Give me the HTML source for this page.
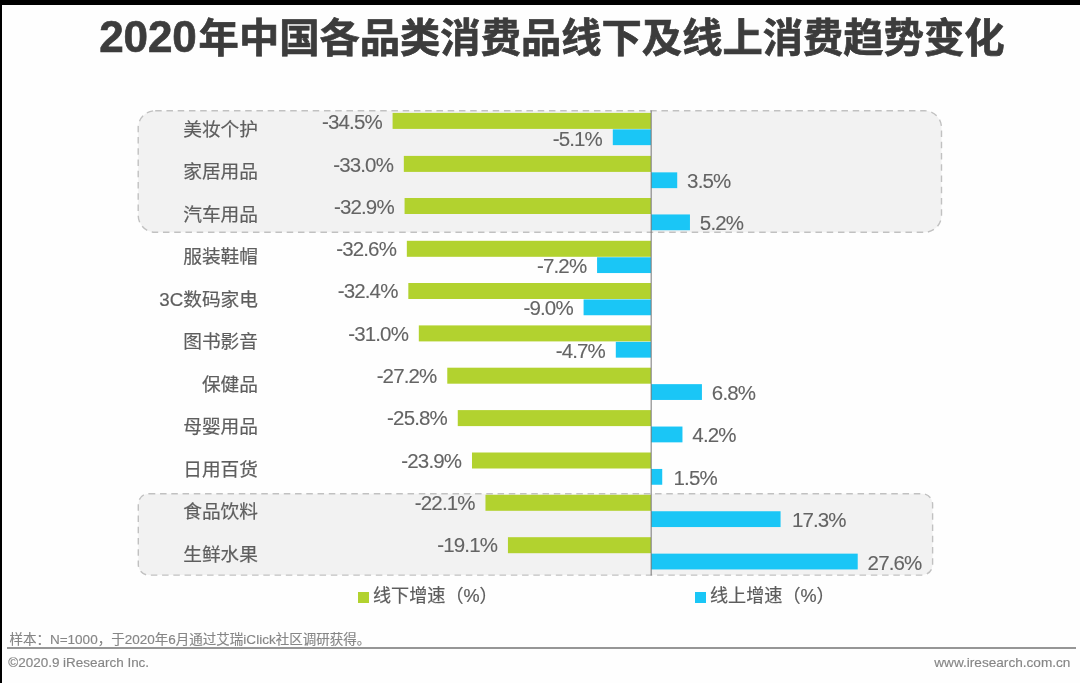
<!DOCTYPE html>
<html lang="zh-CN">
<head>
<meta charset="utf-8">
<title>2020年中国各品类消费品线下及线上消费趋势变化</title>
<style>
html,body{margin:0;padding:0;}
body{width:1080px;height:683px;overflow:hidden;background:#fefefe;position:relative;
  font-family:"Liberation Sans","Noto Sans CJK SC",sans-serif;color:#666;}
#page{position:absolute;left:0;top:0;width:1080px;height:683px;overflow:hidden;background:#fefefe;}
#topbar{position:absolute;left:0;top:0;width:1080px;height:5px;background:#000;}
#leftbar{position:absolute;left:0;top:0;width:2px;height:683px;background:#000;}
h1{position:absolute;left:0;top:0;margin:0;width:1080px;height:60px;font-weight:bold;color:#3c3c3c;
  font-size:40.3px;line-height:60px;white-space:nowrap;}
h1 span.t{position:absolute;left:198.6px;top:9px;-webkit-text-stroke:0.7px #3c3c3c;}
h1 span.n{position:absolute;left:99.3px;top:7px;font-size:44px;letter-spacing:-0.15px;-webkit-text-stroke:0.7px #3c3c3c;}
svg.boxes{position:absolute;left:0;top:0;}
.cat{position:absolute;right:822px;height:28px;line-height:28px;font-size:18.7px;color:#5e5e5e;white-space:nowrap;text-align:right;-webkit-text-stroke:0.2px #5e5e5e;}
.g{background:#b2d22f;fill:#b2d22f;}
.b{background:#1ac6f6;fill:#1ac6f6;}
.val{position:absolute;height:28px;line-height:28px;font-size:20.5px;letter-spacing:-0.85px;color:#646464;white-space:nowrap;-webkit-text-stroke:0.1px #646464;}
.lg{position:absolute;top:582px;height:28px;line-height:28px;font-size:18.1px;color:#5c5c5c;white-space:nowrap;-webkit-text-stroke:0.2px #5c5c5c;}
.sq{position:absolute;top:591.5px;width:11px;height:11px;}
#note{position:absolute;left:9.4px;top:630px;height:20px;line-height:20px;font-size:13.52px;color:#868686;white-space:nowrap;-webkit-text-stroke:0.15px #868686;}
#rule{position:absolute;left:7px;top:647px;width:1069px;height:2px;background:#969696;}
#copy{position:absolute;left:8.3px;top:653px;height:20px;line-height:20px;font-size:13.46px;color:#868686;white-space:nowrap;-webkit-text-stroke:0.15px #868686;}
#site{position:absolute;right:9.6px;top:653px;height:20px;line-height:20px;font-size:13.62px;color:#868686;white-space:nowrap;-webkit-text-stroke:0.15px #868686;}
</style>
</head>
<body>
<div id="page">
<div id="topbar"></div>
<div id="leftbar"></div>
<h1><span class="n">2020</span><span class="t">年中国各品类消费品线下及线上消费趋势变化</span></h1>
<svg class="boxes" width="1080" height="683" viewBox="0 0 1080 683">
<rect x="138.2" y="110.7" width="803.3" height="121.6" rx="17" ry="17" fill="#f2f2f2" stroke="#c1c1c1" stroke-width="1.4" stroke-dasharray="6.5 4.75"/>
<rect x="138.3" y="493.7" width="794.3" height="81.4" rx="10.5" ry="10.5" fill="#f2f2f2" stroke="#c1c1c1" stroke-width="1.4" stroke-dasharray="6.5 4.75"/>
<rect class="g" x="392.59" y="112.90" width="258.41" height="16.0"/>
<rect class="b" x="612.80" y="129.35" width="38.20" height="15.8"/>
<rect class="g" x="403.83" y="155.90" width="247.17" height="16.0"/>
<rect class="b" x="651.00" y="172.35" width="26.21" height="15.8"/>
<rect class="g" x="404.58" y="198.00" width="246.42" height="16.0"/>
<rect class="b" x="651.00" y="214.45" width="38.95" height="15.8"/>
<rect class="g" x="406.83" y="240.80" width="244.17" height="16.0"/>
<rect class="b" x="597.07" y="257.25" width="53.93" height="15.8"/>
<rect class="g" x="408.32" y="283.00" width="242.68" height="16.0"/>
<rect class="b" x="583.59" y="299.45" width="67.41" height="15.8"/>
<rect class="g" x="418.81" y="325.40" width="232.19" height="16.0"/>
<rect class="b" x="615.80" y="341.85" width="35.20" height="15.8"/>
<rect class="g" x="447.27" y="367.70" width="203.73" height="16.0"/>
<rect class="b" x="651.00" y="384.15" width="50.93" height="15.8"/>
<rect class="g" x="457.76" y="410.10" width="193.24" height="16.0"/>
<rect class="b" x="651.00" y="426.55" width="31.46" height="15.8"/>
<rect class="g" x="471.99" y="452.50" width="179.01" height="16.0"/>
<rect class="b" x="651.00" y="468.95" width="11.23" height="15.8"/>
<rect class="g" x="485.47" y="494.80" width="165.53" height="16.0"/>
<rect class="b" x="651.00" y="511.25" width="129.58" height="15.8"/>
<rect class="g" x="507.94" y="537.20" width="143.06" height="16.0"/>
<rect class="b" x="651.00" y="553.65" width="206.72" height="15.8"/>
<rect x="650.6" y="110.5" width="1.2" height="465" fill="#7a7a7a" fill-opacity="0.85"/>
</svg>
<div class="cat" style="top:116.00px">美妆个护</div>
<div class="val r" style="right:698.20px;top:108px">-34.5%</div>
<div class="val r" style="right:478.00px;top:125px">-5.1%</div>
<div class="cat" style="top:158.45px">家居用品</div>
<div class="val r" style="right:686.97px;top:151px">-33.0%</div>
<div class="val l" style="left:687.12px;top:167px">3.5%</div>
<div class="cat" style="top:200.90px">汽车用品</div>
<div class="val r" style="right:686.22px;top:193px">-32.9%</div>
<div class="val l" style="left:699.85px;top:209px">5.2%</div>
<div class="cat" style="top:243.35px">服装鞋帽</div>
<div class="val r" style="right:683.97px;top:235px">-32.6%</div>
<div class="val r" style="right:493.73px;top:252px">-7.2%</div>
<div class="cat" style="top:285.80px">3C数码家电</div>
<div class="val r" style="right:682.48px;top:277px">-32.4%</div>
<div class="val r" style="right:507.21px;top:294px">-9.0%</div>
<div class="cat" style="top:328.25px">图书影音</div>
<div class="val r" style="right:671.99px;top:320px">-31.0%</div>
<div class="val r" style="right:475.00px;top:337px">-4.7%</div>
<div class="cat" style="top:370.70px">保健品</div>
<div class="val r" style="right:643.53px;top:362px">-27.2%</div>
<div class="val l" style="left:711.83px;top:379px">6.8%</div>
<div class="cat" style="top:413.15px">母婴用品</div>
<div class="val r" style="right:633.04px;top:404px">-25.8%</div>
<div class="val l" style="left:692.36px;top:421px">4.2%</div>
<div class="cat" style="top:455.60px">日用百货</div>
<div class="val r" style="right:618.81px;top:447px">-23.9%</div>
<div class="val l" style="left:673.53px;top:464px">1.5%</div>
<div class="cat" style="top:498.05px">食品饮料</div>
<div class="val r" style="right:605.33px;top:489px">-22.1%</div>
<div class="val l" style="left:791.88px;top:506px">17.3%</div>
<div class="cat" style="top:540.50px">生鲜水果</div>
<div class="val r" style="right:582.86px;top:531px">-19.1%</div>
<div class="val l" style="left:867.62px;top:549px">27.6%</div>
<div class="sq g" style="left:357.5px"></div>
<div class="lg" style="left:373px">线下增速（%）</div>
<div class="sq b" style="left:695px"></div>
<div class="lg" style="left:710px">线上增速（%）</div>
<div id="note">样本：N=1000，于2020年6月通过艾瑞iClick社区调研获得。</div>
<div id="rule"></div>
<div id="copy">©2020.9 iResearch Inc.</div>
<div id="site">www.iresearch.com.cn</div>
</div>
</body>
</html>
